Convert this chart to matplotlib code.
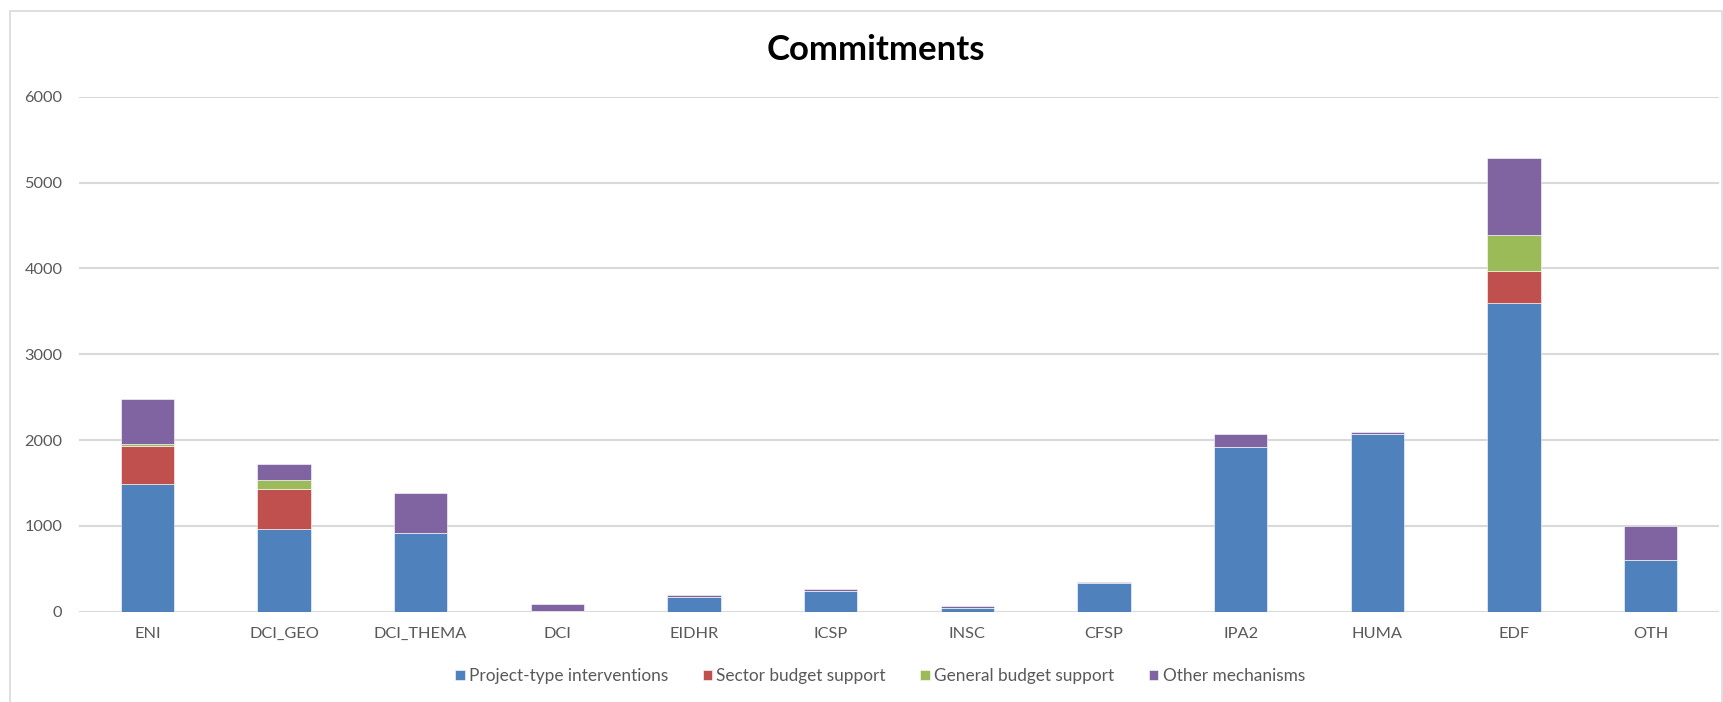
import matplotlib
matplotlib.use("Agg")
import matplotlib.pyplot as plt
from matplotlib.patches import Rectangle
import numpy as np

categories = ["ENI", "DCI_GEO", "DCI_THEMA", "DCI", "EIDHR", "ICSP", "INSC",
              "CFSP", "IPA2", "HUMA", "EDF", "OTH"]
project_type = [1485, 960, 915, 5, 170, 245, 48, 330, 1915, 2075, 3600, 600]
sector_budget = [445, 470, 0, 0, 0, 0, 0, 0, 0, 0, 365, 0]
general_budget = [25, 110, 0, 0, 0, 0, 0, 0, 0, 0, 420, 0]
other_mech = [520, 180, 465, 80, 22, 20, 20, 20, 160, 20, 900, 400]

series_names = ["Project-type interventions", "Sector budget support",
                "General budget support", "Other mechanisms"]
colors = ["#4F81BD", "#C0504D", "#9BBB59", "#8064A2"]
yticks = [0, 1000, 2000, 3000, 4000, 5000, 6000]

plt.rcParams['font.family'] = ['Lato', 'DejaVu Sans']

fig = plt.figure(figsize=(17.24, 7.02), dpi=100)
fig.patches.append(Rectangle((10/1724, -2/702), 1712/1724, 693/702, transform=fig.transFigure,
                             fill=False, edgecolor="#D9D9D9", linewidth=1.2))
ax = fig.add_axes([79/1724, (702-611.7)/702, 1640/1724, (611.7-96.7)/702])

x = np.arange(len(categories))
bottom = np.zeros(len(categories))
data = [project_type, sector_budget, general_budget, other_mech]
for vals, name, c in zip(data, series_names, colors):
    vals = np.array(vals, dtype=float)
    ax.bar(x, vals, width=0.39, bottom=bottom, color=c, label=name,
           edgecolor="white", linewidth=0.4, zorder=3)
    bottom += vals

ax.set_xlim(-0.5, len(categories) - 0.5)
ax.set_ylim(0, 6000)
ax.set_yticks(yticks)
ax.set_yticklabels([str(v) for v in yticks])
ax.set_xticks(x)
ax.set_xticklabels(categories)
ax.yaxis.grid(True, color="#D9D9D9", linewidth=1.5, zorder=0)
ax.set_axisbelow(True)
for s in ax.spines.values():
    s.set_visible(False)
ax.tick_params(axis='both', length=0, labelsize=11.8, labelcolor="#595959")
ax.tick_params(axis='y', pad=12)
ax.tick_params(axis='x', pad=11)

fig.text(876/1724, 1 - 50/702, "Commitments", ha="center", va="center",
         fontsize=25, fontweight="bold", color="black")

leg = fig.legend(loc="center", bbox_to_anchor=(880/1724, 1 - 676/702), ncol=4,
                 frameon=False, fontsize=12.4, handlelength=0.55, handleheight=0.55,
                 handletextpad=0.25, columnspacing=2.0)
for t in leg.get_texts():
    t.set_color("#595959")

fig.savefig("out.png", dpi=100)
